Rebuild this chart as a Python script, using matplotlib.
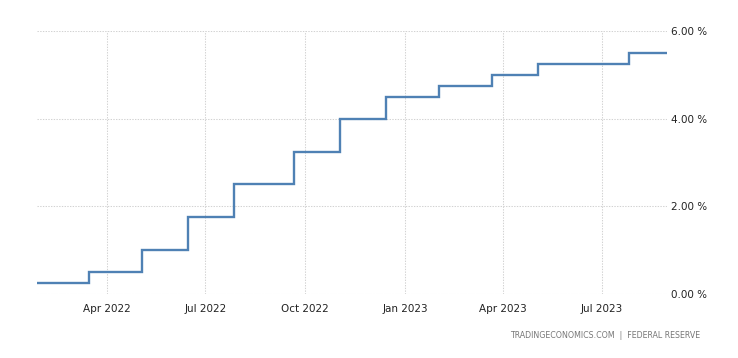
import matplotlib
matplotlib.use("Agg")
import matplotlib.pyplot as plt
import matplotlib.dates as mdates
import numpy as np
from datetime import datetime

# fed funds target (upper bound), step changes at FOMC dates
dates = ["2022-01-27", "2022-03-16", "2022-05-04", "2022-06-15", "2022-07-27",
         "2022-09-21", "2022-11-02", "2022-12-14", "2023-02-01", "2023-03-22",
         "2023-05-03", "2023-07-26", "2023-08-30"]
rates = [0.25, 0.50, 1.00, 1.75, 2.50, 3.25, 4.00, 4.50, 4.75, 5.00, 5.25, 5.50, 5.50]
ytick_vals = [0, 2, 4, 6]
ytick_labels = ["0.00 %", "2.00 %", "4.00 %", "6.00 %"]
xtick_dates = ["2022-04-01", "2022-07-01", "2022-10-01", "2023-01-01", "2023-04-01", "2023-07-01"]

x = [datetime.strptime(d, "%Y-%m-%d") for d in dates]

fig = plt.figure(figsize=(7.38, 3.58), dpi=100)
ax = fig.add_axes([37/738, 1 - 294/358, (667-37)/738, (294-31)/358])

ax.step(x, rates, where="post", color="#4f81b4", lw=1.7, solid_joinstyle="miter")

ax.set_xlim(x[0], x[-1])
ax.set_ylim(0, 6)
ax.set_yticks(ytick_vals)
ax.set_yticklabels(ytick_labels)
ax.yaxis.tick_right()
ax.set_xticks([datetime.strptime(d, "%Y-%m-%d") for d in xtick_dates])
ax.xaxis.set_major_formatter(mdates.DateFormatter("%b %Y"))

for s in ax.spines.values():
    s.set_visible(False)
ax.tick_params(length=0, labelsize=7.5, colors="#222222")
ax.tick_params(axis="x", pad=7)
ax.tick_params(axis="y", pad=3)
ax.grid(True, color="#d2d2d2", lw=0.75, linestyle=(0, (1.3, 1.3)))
ax.set_axisbelow(True)

fig.text(700/738, 1 - 336/358, "TRADINGECONOMICS.COM  |  FEDERAL RESERVE",
         ha="right", va="center", fontsize=5.7, color="#777777")

fig.savefig("out.png", dpi=100)
